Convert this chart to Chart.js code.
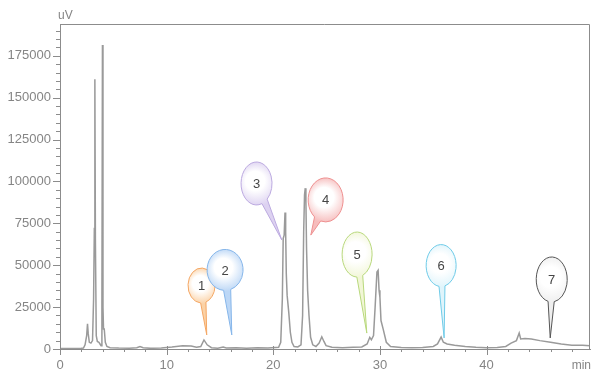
<!DOCTYPE html>
<html><head><meta charset="utf-8">
<script src="https://cdn.jsdelivr.net/npm/chart.js@4/dist/chart.umd.min.js"></script>
<style>html,body{margin:0;padding:0;background:#fff}#wrap{width:592px;height:374px}</style>
</head><body><div id="wrap"><canvas id="c" width="592" height="374"></canvas></div>
<script>
// Retention time (min)
const times = [0,1.0,2.0,2.2,2.35,2.5,2.58,2.65,2.75,2.9,3.05,3.15,3.22,3.27,3.32,3.4,3.5,3.65,3.75,3.85,3.93,3.98,4.03,4.08,4.15,4.25,4.4,4.7,5.5,6.5,7.2,7.5,7.8,8.5,9.5,10.5,11.5,12.3,12.8,13.2,13.5,13.8,14.2,14.8,15.3,15.6,16.5,17.5,18.5,19.5,20.5,20.7,20.85,20.93,21.02,21.1,21.16,21.22,21.3,21.45,21.6,21.75,21.95,22.3,22.6,22.75,22.85,22.93,23.0,23.06,23.12,23.22,23.35,23.5,23.7,24.0,24.3,24.55,24.75,24.95,25.5,26.5,27.5,28.3,28.8,29.05,29.2,29.4,29.55,29.72,29.83,29.92,30.0,30.1,30.3,30.6,31.0,32,33,34,35,35.4,35.74,35.95,36.3,37,38,39,40,41,41.8,42.3,42.8,43.06,43.2,43.6,44.2,45,46,47,48,49,49.7];
// Detector signal (uV)
const signal = [300,300,400,600,2500,8000,15000,9000,4000,3500,5000,30000,72000,161000,65000,8000,4500,4000,3000,2000,25000,181500,25000,12000,12000,4000,1500,800,600,500,700,1400,700,400,600,1200,2000,1800,1000,1500,5400,2500,800,500,1200,600,700,500,700,600,1000,4000,30000,66000,68000,81500,70000,45000,32000,22000,10000,4000,1500,1200,2500,20000,70000,92000,96000,88000,60000,35000,20000,7000,2500,1500,3500,7300,4500,2000,1000,800,1100,1200,3000,7000,5500,8000,25000,46000,47000,35000,31000,17000,12000,4000,1500,900,800,900,1500,3000,7100,4000,3000,2300,1500,1000,800,900,1500,3500,5000,9500,6000,6200,6000,5000,4000,3000,2300,2200,2000];
const xTickValues = [0,2,4,6,8,10,12,14,16,18,20,22,24,26,28,30,32,34,36,38,40,42,44,46,48];
const yTickValues = [];
for (let v = 0; v <= 190000; v += 5000) yTickValues.push(v);
// Peak callouts
const peakLabels = ['1','2','3','4','5','6','7'];
const calloutTimes  = [13.27,15.48,18.43,24.91,27.86,35.74,46.11];
const calloutLevels = [37900,47200,98800,89000,56400,49800,41500];
const tipTimes  = [13.76,16.11,20.80,23.52,28.77,36.02,45.97];
const tipLevels = [8400,8400,65100,68000,9500,6600,6600];

const calloutStyles = [
  {rx:13.5, ry:17.5, stroke:'#f4a765', tint:'#fbd2a6'},
  {rx:18,   ry:20.5, stroke:'#86b6ea', tint:'#bcd7f6'},
  {rx:15.5, ry:21.5, stroke:'#bcaae0', tint:'#ddd2f1'},
  {rx:17.5, ry:22,   stroke:'#ee9090', tint:'#f6bcbc'},
  {rx:15,   ry:22.5, stroke:'#b8d87c', tint:'#f1f6d6'},
  {rx:15,   ry:21,   stroke:'#6fcbe8', tint:'#dff4fb'},
  {rx:15.5, ry:22.5, stroke:'#555555', tint:'#eeeeee'}
];
const AXIS = '#8c8c8c';
const TXT = '#858585';
const FONT = '"Liberation Sans", Arial, sans-serif';

function balloon(ctx, cx, cy, st, tx, ty, text){
  const a = Math.atan2((ty-cy)/st.ry, (tx-cx)/st.rx);
  const d = 0.2;
  ctx.save();
  ctx.beginPath();
  ctx.moveTo(tx, ty);
  ctx.ellipse(cx, cy, st.rx, st.ry, 0, a+d, a-d+2*Math.PI, false);
  ctx.closePath();
  const g = ctx.createRadialGradient(cx-st.rx*0.15, cy-st.ry*0.2, 1, cx, cy, Math.max(st.rx, st.ry)*1.05);
  g.addColorStop(0, '#ffffff');
  g.addColorStop(0.4, '#ffffff');
  g.addColorStop(1, st.tint);
  ctx.fillStyle = g;
  ctx.fill();
  ctx.lineWidth = 1;
  ctx.strokeStyle = st.stroke;
  ctx.stroke();
  ctx.fillStyle = '#454545';
  ctx.font = '13px ' + FONT;
  ctx.textAlign = 'center';
  ctx.textBaseline = 'middle';
  ctx.fillText(text, cx, cy+1);
  ctx.restore();
}

const decorPlugin = {
  id: 'decor',
  afterDraw(chart){
    const {ctx, chartArea:a, scales:{x, y}} = chart;
    ctx.save();
    ctx.strokeStyle = AXIS;
    ctx.lineWidth = 1;
    ctx.beginPath();
    ctx.moveTo(a.left, a.top+0.5);
    ctx.lineTo(a.right-0.5, a.top+0.5);
    ctx.lineTo(a.right-0.5, a.bottom);
    ctx.stroke();
    // y ticks
    ctx.beginPath();
    yTickValues.forEach(v => {
      const py = Math.round(y.getPixelForValue(v)) + 0.5;
      const len = v % 25000 === 0 ? 7 : 4;
      ctx.moveTo(a.left - len, py);
      ctx.lineTo(a.left, py);
    });
    // x ticks
    xTickValues.forEach(v => {
      const px = Math.round(x.getPixelForValue(v)) + 0.5;
      if (v % 10 === 0) { ctx.moveTo(px, a.bottom - 3); ctx.lineTo(px, a.bottom + 6); }
      else { ctx.moveTo(px, a.bottom); ctx.lineTo(px, a.bottom + 3); }
    });
    ctx.stroke();
    ctx.fillStyle = TXT;
    ctx.font = '12px ' + FONT;
    ctx.textBaseline = 'middle';
    ctx.textAlign = 'left';
    ctx.fillText('uV', a.left - 2, 16);
    ctx.textAlign = 'right';
    ctx.fillText('min', a.right + 1, 366);
    ctx.restore();
  },
  afterDatasetsDraw(chart){
    const {ctx, scales:{x, y}} = chart;
    peakLabels.forEach((lab, i) => {
      balloon(ctx,
        x.getPixelForValue(calloutTimes[i]), y.getPixelForValue(calloutLevels[i]),
        calloutStyles[i],
        x.getPixelForValue(tipTimes[i]), y.getPixelForValue(tipLevels[i]), lab);
    });
  }
};

new Chart(document.getElementById('c'), {
  type: 'line',
  data: {
    datasets: [{
      data: times.map((t, i) => ({x: t, y: signal[i]})),
      borderColor: '#9a9a9a',
      borderWidth: 1.5,
      pointRadius: 0,
      tension: 0,
      fill: false
    }]
  },
  options: {
    responsive: false,
    animation: false,
    devicePixelRatio: 1,
    layout: {padding: {top: 24, right: 2, left: 0, bottom: 0}},
    plugins: {legend: {display: false}, tooltip: {enabled: false}},
    scales: {
      x: {
        type: 'linear', min: 0, max: 49.7,
        afterBuildTicks: s => { s.ticks = xTickValues.map(v => ({value: v})); },
        afterFit: s => { s.height = 25; },
        grid: {drawOnChartArea: false, drawTicks: false},
        border: {color: AXIS, width: 1},
        ticks: {autoSkip: false, maxRotation: 0, padding: 9, color: TXT,
          font: {family: FONT, size: 13},
          callback: v => (v % 10 === 0 ? String(v) : '')}
      },
      y: {
        type: 'linear', min: 0, max: 194000,
        afterBuildTicks: s => { s.ticks = yTickValues.map(v => ({value: v})); },
        afterFit: s => { s.width = 60; },
        grid: {drawOnChartArea: false, drawTicks: false},
        border: {color: AXIS, width: 1},
        ticks: {autoSkip: false, padding: 9, color: TXT,
          font: {family: FONT, size: 13},
          callback: v => (v % 25000 === 0 ? String(v) : '')}
      }
    }
  },
  plugins: [decorPlugin]
});
</script>
</body></html>
